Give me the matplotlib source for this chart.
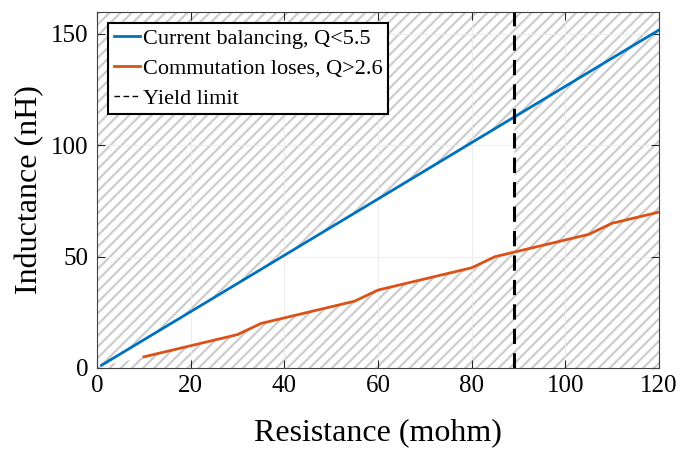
import numpy as np
import matplotlib
matplotlib.use("Agg")
import matplotlib.pyplot as plt
from matplotlib.patches import Rectangle
from matplotlib.lines import Line2D

# Data
blue_R = [1, 120]
blue_L = [1.27, 151.8]
orange_R = [10, 30, 35, 55, 60, 80, 85, 105, 110, 120]
orange_L = [5, 15, 20, 30, 35, 45, 50, 60, 65, 70]
yield_R = 89
xticks = [0, 20, 40, 60, 80, 100, 120]
yticks = [0, 50, 100, 150]
labels = ["Current balancing, Q<5.5", "Commutation loses, Q>2.6", "Yield limit"]

plt.rcParams['font.family'] = ['Liberation Serif', 'DejaVu Serif']
plt.rcParams['hatch.linewidth'] = 1.6
plt.rcParams['hatch.color'] = '#cdcdcd'

fig = plt.figure(figsize=(6.92, 4.5), dpi=100)
ax = fig.add_axes([97/692, 1-368/450, (659-97)/692, (368-11.7)/450])
ax.set_xlim(0, 120)
ax.set_ylim(0, 160)

# hatched background
bg = Rectangle((0, 0), 1, 1, transform=ax.transAxes, facecolor='white',
               edgecolor='#cdcdcd', hatch='///', linewidth=0, zorder=0.1)
ax.add_patch(bg)

# white feasible region
xs = np.linspace(blue_R[0], yield_R, 400)
lower = np.interp(xs, [blue_R[0]] + orange_R, [blue_L[0]] + orange_L)
upper = np.interp(xs, blue_R, blue_L)
ax.fill_between(xs, lower, upper, color='white', linewidth=0, zorder=0.2)

ax.set_axisbelow('line')
ax.grid(True, color='#ebebeb', linewidth=0.6)

l1, = ax.plot(blue_R, blue_L, color='#0072BD', linewidth=2.0, zorder=3)
l2, = ax.plot(orange_R, orange_L, color='#D95319', linewidth=2.0, zorder=3)
ax.axvline(yield_R, color='black', linestyle=(0, (5, 3)), linewidth=2.2, zorder=3)
proxy = Line2D([], [], color='black', linewidth=1.0, linestyle=(0, (4, 2.5)))

ax.set_xticks(xticks)
ax.set_yticks(yticks)
ax.tick_params(direction='in', length=6, width=0.8, top=True, right=True,
               labelsize=18, colors='#262626', pad=5)
ax.tick_params(axis='y', pad=6)
for lab in ax.get_xticklabels() + ax.get_yticklabels():
    lab.set_color('black')
for s in ax.spines.values():
    s.set_color('#404040')
    s.set_linewidth(0.8)

ax.set_xlabel('Resistance (mohm)', fontsize=23, labelpad=15)
ax.set_ylabel('Inductance (nH)', fontsize=23, labelpad=5)

leg = ax.legend([l1, l2, proxy], labels, loc='upper left', fontsize=16, frameon=True,
                fancybox=False, edgecolor='black', framealpha=1, handlelength=1.2,
                handletextpad=0.1, labelspacing=0.42, borderpad=0.25, borderaxespad=0.5)
leg.get_frame().set_linewidth(1.5)

fig.savefig('out.png', dpi=100)
